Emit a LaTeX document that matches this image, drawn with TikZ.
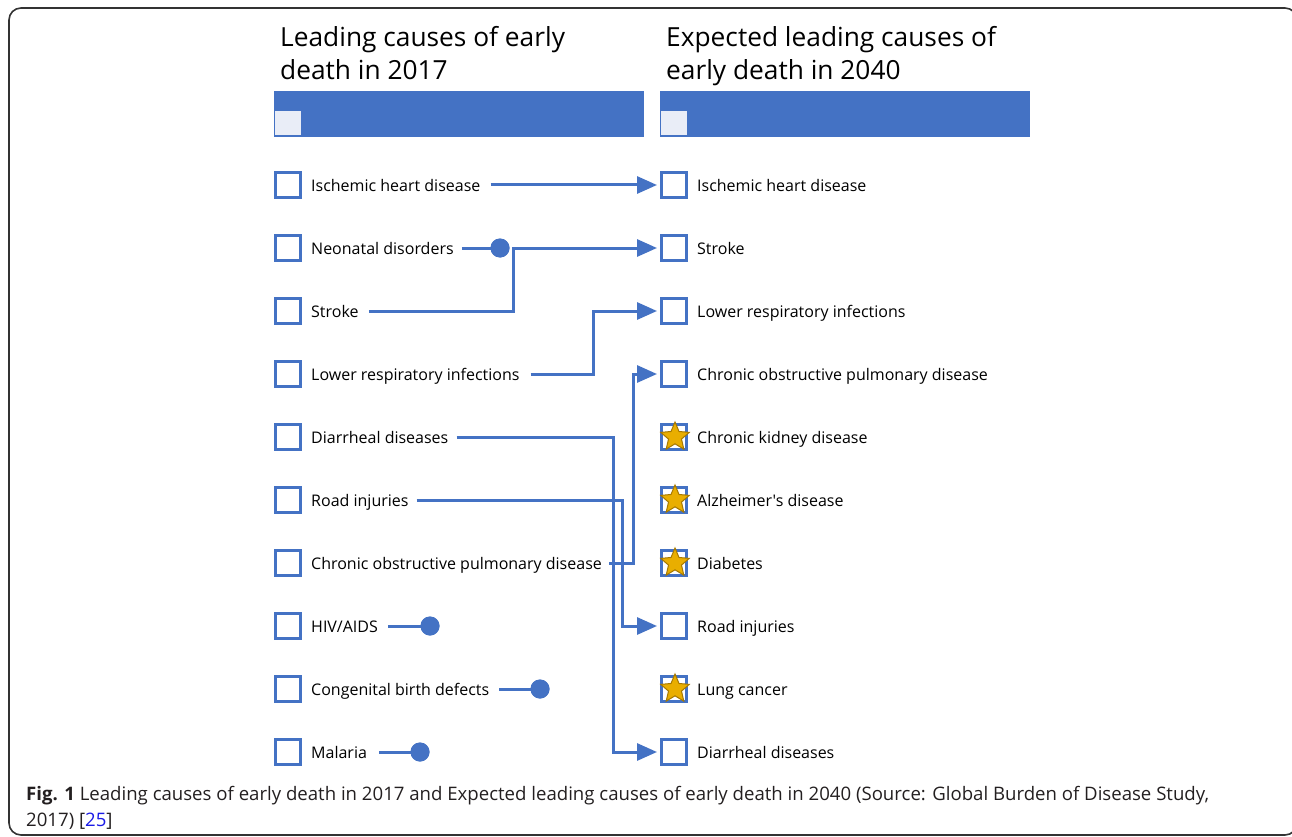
\documentclass[tikz,border=0pt]{standalone}
\usepackage{fontspec}
\setmainfont{Open Sans}[Ligatures=TeXOff]
\usetikzlibrary{arrows.meta,shapes.geometric}
\definecolor{bl}{HTML}{4472C4}
\definecolor{lightsq}{HTML}{E9EDF7}
\definecolor{gold}{HTML}{E9AE00}
\definecolor{darkgold}{HTML}{A67800}
\definecolor{frame}{HTML}{333333}
\definecolor{captxt}{HTML}{231F20}
\definecolor{linkblue}{HTML}{1A1AE6}
\begin{document}
\begin{tikzpicture}[x=1pt,y=-1pt,
  box/.style={draw=bl,line width=3pt,fill=white,minimum size=25pt,inner sep=0pt,outer sep=1.5pt},
  lbl/.style={anchor=west,inner sep=0pt,font=\fontsize{16}{19}\selectfont,text height=12pt,text depth=0pt},
  ttl/.style={anchor=north west,inner sep=0pt,align=left,font=\fontsize{26.3}{33}\selectfont},
  conn/.style={draw=bl,line width=3pt},
  arr/.style={conn,-{Triangle[length=20pt,width=17pt]},shorten >=3pt},
  dotn/.style={circle,fill=bl,minimum size=19pt,inner sep=0pt},
  strn/.style={star,star points=5,star point ratio=2.2,fill=gold,draw=darkgold,line width=1pt,minimum size=30pt,inner sep=0pt},
  hdr/.style={fill=bl},
]
\useasboundingbox (0,0) rectangle (1292,837);
\begin{scope}
\clip (0,0) rectangle (1292,837);
\draw[frame,line width=1.6pt,rounded corners=12pt] (9,8) rectangle (1297,835);
\end{scope}

% titles
\node[ttl] (tL) at (280,26) {Leading causes of early\\death in 2017};
\node[ttl] (tR) at (666,26) {Expected leading causes of\\early death in 2040};

% header bars
\fill[hdr] (274,91) rectangle (644,137);
\fill[hdr] (660,91) rectangle (1030,137);
\fill[lightsq] (275,111) rectangle (301,135);
\fill[lightsq] (661,111) rectangle (687,135);

% left column
\foreach \i/\t in {1/Ischemic heart disease,2/Neonatal disorders,3/Stroke,4/Lower respiratory infections,5/Diarrheal diseases,6/Road injuries,7/Chronic obstructive pulmonary disease,8/{HIV/AIDS},9/Congenital birth defects,10/Malaria}{
  \node[box] (L\i) at (288,{185+63*(\i-1)}) {};
  \node[lbl] (lt\i) at (311,{185+63*(\i-1)}) {\t};
}
% right column
\foreach \i/\t in {1/Ischemic heart disease,2/Stroke,3/Lower respiratory infections,4/Chronic obstructive pulmonary disease,5/Chronic kidney disease,6/{Alzheimer's disease},7/Diabetes,8/Road injuries,9/Lung cancer,10/Diarrheal diseases}{
  \node[box] (R\i) at (674,{185+63*(\i-1)}) {};
  \node[lbl] (rt\i) at (697,{185+63*(\i-1)}) {\t};
}
% stars
\foreach \i in {5,6,7,9}{
  \node[strn] (S\i) at ([xshift=1pt]R\i.center) {};
}

% dots
\node[dotn] (D2) at (500,248) {};
\node[dotn] (D8) at (430,626) {};
\node[dotn] (D9) at (540,689) {};
\node[dotn] (D10) at (420,752) {};

% connectors
\draw[arr] ([xshift=10pt]lt1.east) -- (R1.west);
\draw[conn] ([xshift=8pt]lt2.east) -- (D2.center);
\draw[arr] ([xshift=10pt]lt3.east) -| (513,248) -- (R2.west);
\draw[arr] ([xshift=11pt]lt4.east) -| (593,311) -- (R3.west);
\draw[arr] ([xshift=7pt]lt7.east) -| (633,374) -- (R4.west);
\draw[arr] ([xshift=8pt]lt5.east) -| (613,752) -- (R10.west);
\draw[arr] ([xshift=8pt]lt6.east) -| (622,626) -- (R8.west);
\draw[conn] ([xshift=10pt]lt8.east) -- (D8.center);
\draw[conn] ([xshift=10pt]lt9.east) -- (D9.center);
\draw[conn] ([xshift=12pt]lt10.east) -- (D10.center);
\node[dotn] at (D2) {};
\node[dotn] at (D8) {};
\node[dotn] at (D9) {};
\node[dotn] at (D10) {};

% caption
\node[anchor=base west,inner sep=0pt,align=left,text=captxt,font=\fontsize{18.6}{26}\selectfont] (cap) at (26,826)
 {\textbf{Fig. 1} Leading causes of early death in 2017 and Expected leading causes of early death in 2040 (Source: Global Burden of Disease Study,\\2017) [\textcolor{linkblue}{25}]};
\end{tikzpicture}
\end{document}
